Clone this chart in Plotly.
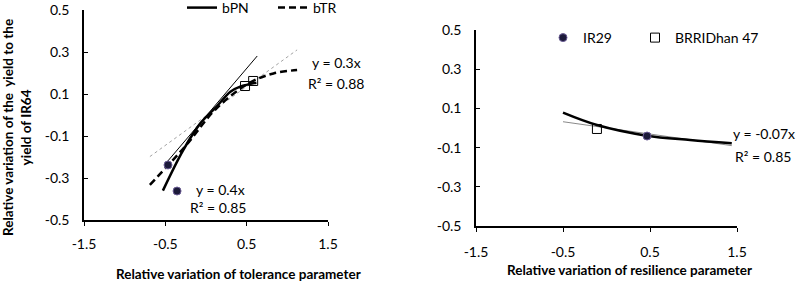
import plotly.graph_objects as go

# ---------------- data ----------------
# Left panel (tolerance parameter)
ir29_tol_x = [-0.467, -0.356]
ir29_tol_y = [-0.238, -0.362]
brri_tol_x = [0.48, 0.58]
brri_tol_y = [0.138, 0.162]

bpn_x = [-0.53, -0.28, -0.07, 0.13, 0.30, 0.42, 0.62]
bpn_y = [-0.360, -0.167, -0.040, 0.040, 0.111, 0.135, 0.154]
bpn_fit_x = [-0.50, 0.63]
bpn_fit_y = [-0.233, 0.281]

btr_x = [-0.69, -0.26, 0.13, 0.54, 0.83, 1.12]
btr_y = [-0.333, -0.151, 0.032, 0.154, 0.198, 0.214]
btr_fit_x = [-0.69, 1.12]
btr_fit_y = [-0.198, 0.310]

# Right panel (resilience parameter)
ir29_res_x = [0.466]
ir29_res_y = [-0.041]
brri_res_x = [-0.11]
brri_res_y = [-0.005]

res_x = [-0.50, -0.11, 0.46, 0.96, 1.44]
res_y = [0.078, 0.015, -0.039, -0.061, -0.078]
res_fit_x = [-0.50, 1.44]
res_fit_y = [0.032, -0.090]

x_ticks = [-1.5, -0.5, 0.5, 1.5]
y_ticks = [-0.5, -0.3, -0.1, 0.1, 0.3, 0.5]

FONT = "Lato"
W, H = 798, 282

def px_x(p):
    return p / W

def px_y(p):
    return 1 - p / H

fig = go.Figure()

# ---- left panel ----
fig.add_trace(go.Scatter(x=btr_fit_x, y=btr_fit_y, mode="lines",
                         line=dict(color="#8a8a8a", width=0.8, dash="dot"),
                         showlegend=False, xaxis="x", yaxis="y"))
fig.add_trace(go.Scatter(x=bpn_fit_x, y=bpn_fit_y, mode="lines",
                         line=dict(color="black", width=1),
                         showlegend=False, xaxis="x", yaxis="y"))
fig.add_trace(go.Scatter(x=bpn_x, y=bpn_y, mode="lines", name="bPN",
                         line=dict(color="black", width=2.5, shape="spline"),
                         legend="legend", xaxis="x", yaxis="y"))
fig.add_trace(go.Scatter(x=btr_x, y=btr_y, mode="lines", name="bTR",
                         line=dict(color="black", width=2.5, shape="spline", dash="7px,4px"),
                         legend="legend", xaxis="x", yaxis="y"))
fig.add_trace(go.Scatter(x=ir29_tol_x, y=ir29_tol_y, mode="markers",
                         marker=dict(symbol="circle", size=8, color="#1c1a3a",
                                     line=dict(color="#6b5d95", width=1)),
                         showlegend=False, xaxis="x", yaxis="y"))
fig.add_trace(go.Scatter(x=brri_tol_x, y=brri_tol_y, mode="markers",
                         marker=dict(symbol="square-open", size=9, color="black",
                                     line=dict(width=1)),
                         showlegend=False, xaxis="x", yaxis="y"))

# ---- right panel ----
fig.add_trace(go.Scatter(x=res_fit_x, y=res_fit_y, mode="lines",
                         line=dict(color="#8a8a8a", width=1),
                         showlegend=False, xaxis="x2", yaxis="y2"))
fig.add_trace(go.Scatter(x=res_x, y=res_y, mode="lines",
                         line=dict(color="black", width=2.5, shape="spline"),
                         showlegend=False, xaxis="x2", yaxis="y2"))
fig.add_trace(go.Scatter(x=ir29_res_x, y=ir29_res_y, mode="markers", name="IR29",
                         marker=dict(symbol="circle", size=8, color="#1c1a3a",
                                     line=dict(color="#6b5d95", width=1)),
                         legend="legend2", xaxis="x2", yaxis="y2"))
fig.add_trace(go.Scatter(x=brri_res_x, y=brri_res_y, mode="markers", name="BRRIDhan 47",
                         marker=dict(symbol="square-open", size=9, color="black",
                                     line=dict(width=1)),
                         legend="legend3", xaxis="x2", yaxis="y2"))

axis_common = dict(showgrid=False, zeroline=False, showline=True, linecolor="black",
                   linewidth=1.5, ticklen=4, tickcolor="black", automargin=False,
                   tickfont=dict(family=FONT, size=14, color="black"))

legend_common = dict(orientation="h", xref="container", yref="container",
                     xanchor="left", yanchor="middle", bgcolor="rgba(0,0,0,0)",
                     font=dict(family=FONT, size=14), itemwidth=30)

fig.update_layout(
    width=W, height=H,
    margin=dict(l=0, r=0, t=0, b=0, autoexpand=False),
    paper_bgcolor="white", plot_bgcolor="white",
    font=dict(family=FONT, size=14, color="black"),
    xaxis=dict(domain=[px_x(84), px_x(328)], range=[-1.5, 1.5], tickvals=x_ticks,
               ticktext=[str(v) for v in x_ticks], anchor="y", ticks="outside",
               ticklabelstandoff=6, **axis_common),
    yaxis=dict(domain=[px_y(220), px_y(10)], range=[-0.5, 0.5], tickvals=y_ticks,
               ticktext=[str(v) for v in y_ticks], anchor="x", ticks="inside",
               ticklabelstandoff=10, **axis_common),
    xaxis2=dict(domain=[px_x(476), px_x(737)], range=[-1.5, 1.5], tickvals=x_ticks,
                ticktext=[str(v) for v in x_ticks], anchor="y2", ticks="outside",
                ticklabelstandoff=8, **axis_common),
    yaxis2=dict(domain=[px_y(226), px_y(30)], range=[-0.5, 0.5], tickvals=y_ticks,
                ticktext=[str(v) for v in y_ticks], anchor="x2", ticks="inside",
                ticklabelstandoff=10, **axis_common),
    legend=dict(x=px_x(182), y=px_y(8), entrywidth=46, entrywidthmode="pixels",
                **legend_common),
    legend2=dict(x=px_x(543), y=px_y(38), **legend_common),
    legend3=dict(x=px_x(635), y=px_y(38), **legend_common),
    showlegend=True,
)

ann_font = dict(family=FONT, size=14, color="black")
annotations = [
    dict(text="y = 0.4x", x=px_x(220), y=px_y(189)),
    dict(text="R² = 0.85", x=px_x(218), y=px_y(207)),
    dict(text="y = 0.3x", x=px_x(336), y=px_y(63)),
    dict(text="R² = 0.88", x=px_x(336), y=px_y(83)),
    dict(text="y = -0.07x", x=px_x(797), y=px_y(133), xanchor="right"),
    dict(text="R² = 0.85", x=px_x(763), y=px_y(156)),
    dict(text="<b>Relative variation of tolerance parameter</b>", x=px_x(238), y=px_y(274)),
    dict(text="<b>Relative variation of resilience parameter</b>", x=px_x(629), y=px_y(270)),
    dict(text="<b>Relative variation of the  yield to the<br>yield of IR64</b>",
         x=px_x(17), y=px_y(128), textangle=-90),
]
for a in annotations:
    a.setdefault("xanchor", "center")
    a.update(xref="paper", yref="paper", showarrow=False,
             yanchor="middle", font=dict(ann_font))
    if "<b>" in a["text"]:
        a["font"]["size"] = 13.5
fig.update_layout(annotations=annotations)

fig.write_html(
    "out.html",
    config={"displayModeBar": False},
    post_script="document.body.style.margin='0';document.body.style.overflow='hidden';",
)
